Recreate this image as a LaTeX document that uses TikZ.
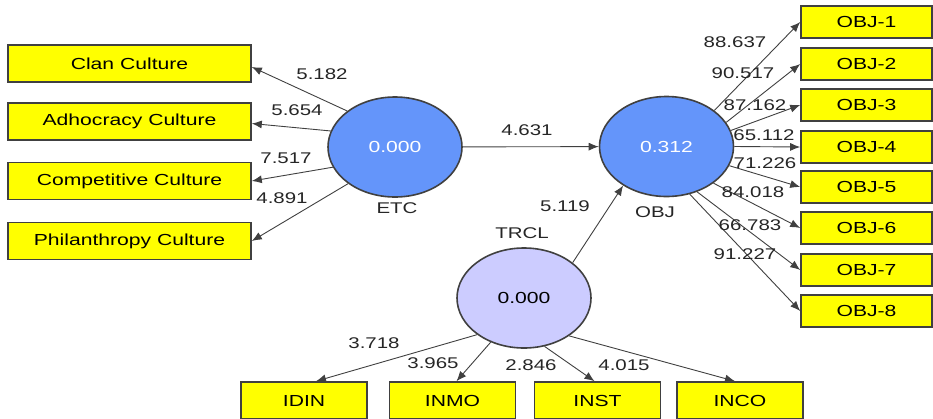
\documentclass[tikz,border=0pt]{standalone}
\usepackage{fontspec}
\setmainfont{Liberation Sans}[FakeStretch=1.32]
\usetikzlibrary{shapes.geometric,arrows.meta,calc}
\definecolor{boxyellow}{HTML}{FFFF00}
\definecolor{edgegray}{HTML}{404040}
\definecolor{lvblue}{HTML}{6495FA}
\definecolor{lvpurple}{HTML}{CCCCFF}
\tikzset{
  ind/.style={draw=edgegray,line width=1.6pt,fill=boxyellow,inner sep=0pt,
    font=\fontsize{16}{18}\selectfont},
  lbox/.style={ind,minimum width=243pt,minimum height=37pt},
  rbox/.style={ind,minimum width=131pt,minimum height=32pt},
  bbox/.style={ind,minimum width=126pt,minimum height=37pt},
  lv/.style={ellipse,draw=edgegray,line width=1.6pt,inner sep=0pt,
    minimum width=134pt,minimum height=100pt,
    font=\fontsize{16}{18}\selectfont},
  num/.style={inner sep=0pt,font=\fontsize{15.5}{17}\selectfont,text=black!85},
  arr/.style={draw=edgegray,line width=0.9pt,-{Latex[length=10pt,width=8pt]}},
}
\begin{document}
\begin{tikzpicture}[x=1pt,y=-1pt]
\useasboundingbox (0,0) rectangle (933,418);
% left indicators
\node[lbox] (c1) at (129.5,63.5) {Clan Culture};
\node[lbox] (c2) at (129.5,121.5) {Adhocracy Culture};
\node[lbox] (c3) at (129.5,181) {Competitive Culture};
\node[lbox] (c4) at (129.5,241) {Philanthropy Culture};
% latent variables
\node[lv,fill=lvblue,text=white] (ETC) at (395,147) {0.000};
\node[lv,fill=lvblue,text=white] (OBJ) at (666.5,146.5) {0.312};
\node[lv,fill=lvpurple,text=black] (TRCL) at (524,298) {0.000};
\node[num] (nETC) at (397,208) {ETC};
\node[num] (nOBJ) at (655,212) {OBJ};
\node[num] (nTRCL) at (522,233) {TRCL};
% right indicators
\node[rbox] (o1) at (866.5,22) {OBJ-1};
\node[rbox] (o2) at (866.5,64) {OBJ-2};
\node[rbox] (o3) at (866.5,105) {OBJ-3};
\node[rbox] (o4) at (866.5,147) {OBJ-4};
\node[rbox] (o5) at (866.5,187) {OBJ-5};
\node[rbox] (o6) at (866.5,228) {OBJ-6};
\node[rbox] (o7) at (866.5,270) {OBJ-7};
\node[rbox] (o8) at (866.5,311) {OBJ-8};
% bottom indicators
\node[bbox] (b1) at (304,400.5) {IDIN};
\node[bbox] (b2) at (452.5,400.5) {INMO};
\node[bbox] (b3) at (597.5,400.5) {INST};
\node[bbox] (b4) at (740,400.5) {INCO};
% connectors
\draw[arr] (ETC.143) -- ($(c1.east)+(0,3.5)$);
\draw[arr] (ETC.166) -- ($(c2.east)+(0,2)$);
\draw[arr] (ETC.198) -- (c3.east);
\draw[arr] (ETC.218) -- (c4.east);
\draw[arr] (ETC) -- (OBJ);
\draw[arr] (TRCL.36) -- (OBJ.222);
\draw[arr] (OBJ.37) -- (o1.west);
\draw[arr] (OBJ.22) -- (o2.west);
\draw[arr] (OBJ.14) -- (o3.west);
\draw[arr] (OBJ.0) -- (o4.west);
\draw[arr] (OBJ.-17) -- (o5.west);
\draw[arr] (OBJ.-38) -- (o6.west);
\draw[arr] (OBJ.-56) -- (o7.west);
\draw[arr] (OBJ.-64) -- (o8.west);
\draw[arr] (TRCL.218) -- ($(b1.north)+(12,0)$);
\draw[arr] (TRCL.233) -- ($(b2.north)+(4,0)$);
\draw[arr] (TRCL.293) -- ($(b3.north)+(-3,0)$);
\draw[arr] (TRCL.320) -- ($(b4.north)+(-5,0)$);
% labels
\node[num] (l1) at (322,74) {5.182};
\node[num] (l2) at (297,110) {5.654};
\node[num] (l3) at (286,158) {7.517};
\node[num] (l4) at (282,198) {4.891};
\node[num] (l5) at (527,130) {4.631};
\node[num] (l6) at (565,206) {5.119};
\node[num] (r1) at (735,42) {88.637};
\node[num] (r2) at (743,73) {90.517};
\node[num] (r3) at (755,105) {87.162};
\node[num] (r4) at (764,135) {65.112};
\node[num] (r5) at (765,163) {71.226};
\node[num] (r6) at (753,192) {84.018};
\node[num] (r7) at (750,225) {66.783};
\node[num] (r8) at (745,254) {91.227};
\node[num] (d1) at (374,343) {3.718};
\node[num] (d2) at (433,363) {3.965};
\node[num] (d3) at (531,365) {2.846};
\node[num] (d4) at (624,365) {4.015};
\end{tikzpicture}
\end{document}
